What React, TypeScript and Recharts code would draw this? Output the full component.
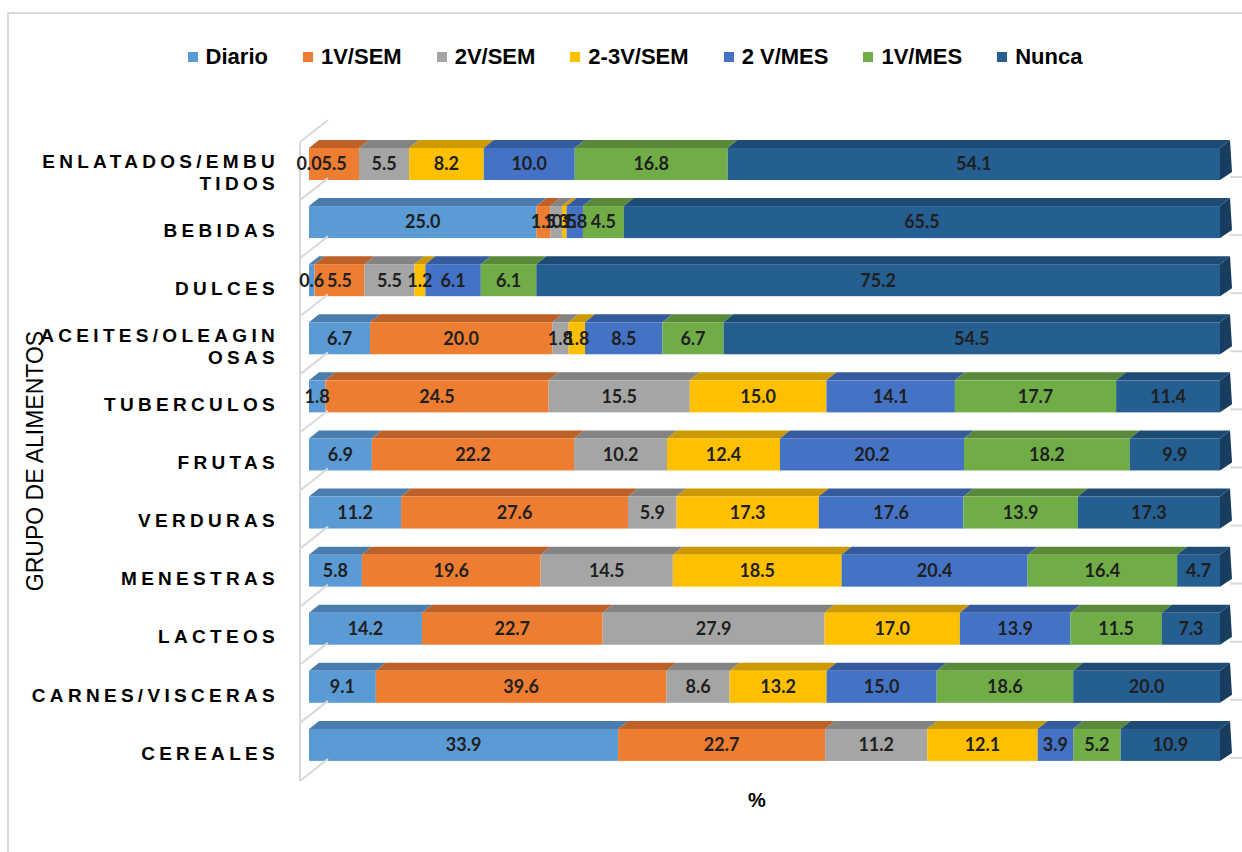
import { BarChart, Bar, XAxis, YAxis, LabelList } from "recharts";

// categories top to bottom, "\n" marks where the label wraps
const categories = [
  "ENLATADOS/EMBU\nTIDOS",
  "BEBIDAS",
  "DULCES",
  "ACEITES/OLEAGIN\nOSAS",
  "TUBERCULOS",
  "FRUTAS",
  "VERDURAS",
  "MENESTRAS",
  "LACTEOS",
  "CARNES/VISCERAS",
  "CEREALES",
];

const diario = [0.0, 25.0, 0.6, 6.7, 1.8, 6.9, 11.2, 5.8, 14.2, 9.1, 33.9];
const unaVSem = [5.5, 1.5, 5.5, 20.0, 24.5, 22.2, 27.6, 19.6, 22.7, 39.6, 22.7];
const dosVSem = [5.5, 1.3, 5.5, 1.8, 15.5, 10.2, 5.9, 14.5, 27.9, 8.6, 11.2];
const dosTresVSem = [8.2, 0.5, 1.2, 1.8, 15.0, 12.4, 17.3, 18.5, 17.0, 13.2, 12.1];
const dosVMes = [10.0, 1.8, 6.1, 8.5, 14.1, 20.2, 17.6, 20.4, 13.9, 15.0, 3.9];
const unaVMes = [16.8, 4.5, 6.1, 6.7, 17.7, 18.2, 13.9, 16.4, 11.5, 18.6, 5.2];
const nunca = [54.1, 65.5, 75.2, 54.5, 11.4, 9.9, 17.3, 4.7, 7.3, 20.0, 10.9];

const series = [
  { key: "d", name: "Diario", values: diario, fill: "#5B9BD5", top: "#4A7DAD" },
  { key: "s1", name: "1V/SEM", values: unaVSem, fill: "#ED7D31", top: "#BD6128" },
  { key: "s2", name: "2V/SEM", values: dosVSem, fill: "#A5A5A5", top: "#838383" },
  { key: "s23", name: "2-3V/SEM", values: dosTresVSem, fill: "#FFC000", top: "#CC9A00" },
  { key: "m2", name: "2 V/MES", values: dosVMes, fill: "#4472C4", top: "#365B9C" },
  { key: "m1", name: "1V/MES", values: unaVMes, fill: "#70AD47", top: "#5A8A39" },
  { key: "n", name: "Nunca", values: nunca, fill: "#255E91", top: "#1E4B74" },
];

const data = categories.map((name, i) => {
  const row: Record<string, number | string> = { name };
  series.forEach((s) => (row[s.key] = s.values[i]));
  return row;
});

const W = 1242;
const H = 852;
const margin = { top: 135, right: 22, bottom: 78, left: 0 };
const BAND = (H - margin.top - margin.bottom) / categories.length;
const DX = 10;
const DY = 8;
const WALL = "#d9d9d9";

const make3D = (top: string, last: boolean) => (props: any) => {
  const { x, y, width, height, fill } = props;
  if (width == null || height == null) return null;
  return (
    <g>
      <polygon
        points={`${x},${y} ${x + DX},${y - DY} ${x + width + DX},${y - DY} ${x + width},${y}`}
        fill={top}
      />
      <rect x={x} y={y} width={Math.max(width, 0)} height={height} fill={fill} />
      {last && (
        <>
          <polygon
            points={`${x + width},${y} ${x + width + DX},${y - DY} ${x + width + DX + 2},${
              y + height - DY
            } ${x + width},${y + height}`}
            fill="#183D5F"
          />
          <line
            x1={x + width + DX}
            y1={y + height - 3}
            x2={x + width + DX + 30}
            y2={y + height - 3}
            stroke={WALL}
            strokeWidth={2}
          />
        </>
      )}
    </g>
  );
};

function CategoryTick(props: any) {
  const { y, payload, index } = props;
  const lines = String(payload.value).split("\n");
  const cy = y + 8 - (lines.length - 1) * 11;
  const b0 = y - BAND / 2 + 7;
  const b1 = y + BAND / 2 + 7;
  return (
    <g>
      <line x1={300} y1={b0} x2={300} y2={b1} stroke={WALL} strokeWidth={2} />
      <line x1={300} y1={b1} x2={328} y2={b1 - 22} stroke={WALL} strokeWidth={2} />
      {index === 0 && (
        <line x1={300} y1={b0} x2={328} y2={b0 - 22} stroke={WALL} strokeWidth={2} />
      )}
      <text
        textAnchor="end"
        fontFamily="'Liberation Sans', Arial, sans-serif"
        fontWeight="bold"
        fontSize={19}
        letterSpacing={4.3}
        fill="#000"
      >
        {lines.map((l, i) => (
          <tspan key={i} x={279} y={cy + i * 22} dy="0.35em">
            {l}
          </tspan>
        ))}
      </text>
    </g>
  );
}

export default function App() {
  return (
    <div
      style={{
        position: "absolute",
        left: 0,
        top: 0,
        width: W,
        height: H,
        overflow: "hidden",
        background: "#fff",
      }}
    >
      <div
        style={{
          position: "absolute",
          left: 7,
          top: 12,
          width: W + 20,
          height: H + 20,
          border: `2px solid ${WALL}`,
        }}
      />
      <div
        style={{
          position: "absolute",
          top: 44,
          left: 0,
          width: W,
          paddingLeft: 28,
          boxSizing: "border-box",
          display: "flex",
          justifyContent: "center",
          gap: 35,
          fontFamily: "'Liberation Sans', Arial, sans-serif",
          fontWeight: "bold",
          fontSize: 22,
          lineHeight: "26px",
        }}
      >
        {series.map((s) => (
          <div key={s.key} style={{ display: "flex", alignItems: "center" }}>
            <span
              style={{ width: 10, height: 10, background: s.fill, marginRight: 8, display: "inline-block" }}
            />
            <span>{s.name}</span>
          </div>
        ))}
      </div>
      <div
        style={{
          position: "absolute",
          left: 35,
          top: 461,
          transform: "translate(-50%, -50%) rotate(-90deg)",
          whiteSpace: "nowrap",
          fontFamily: "'Liberation Sans', Arial, sans-serif",
          fontSize: 23,
        }}
      >
        GRUPO DE ALIMENTOS
      </div>
      <div
        style={{
          position: "absolute",
          left: 757,
          top: 800,
          transform: "translate(-50%, -50%)",
          fontFamily: "'Liberation Sans', Arial, sans-serif",
          fontWeight: "bold",
          fontSize: 20,
        }}
      >
        %
      </div>
      <BarChart
        width={W}
        height={H}
        data={data}
        layout="vertical"
        stackOffset="expand"
        margin={margin}
        barSize={32}
        style={{ position: "absolute", left: 0, top: 0 }}
      >
        <XAxis type="number" hide />
        <YAxis
          type="category"
          dataKey="name"
          width={309}
          axisLine={false}
          tickLine={false}
          tick={<CategoryTick />}
          interval={0}
        />
        {series.map((s, i) => (
          <Bar
            key={s.key}
            dataKey={s.key}
            name={s.name}
            stackId="a"
            fill={s.fill}
            isAnimationActive={false}
            shape={make3D(s.top, i === series.length - 1)}
          >
            <LabelList
              dataKey={s.key}
              position="center"
              formatter={(v: any) => Number(v).toFixed(1)}
              style={{
                fontFamily: "Lato, 'Open Sans', sans-serif",
                fontWeight: 700,
                fontSize: 18,
                fill: "#1f1f1f",
              }}
            />
          </Bar>
        ))}
      </BarChart>
    </div>
  );
}
